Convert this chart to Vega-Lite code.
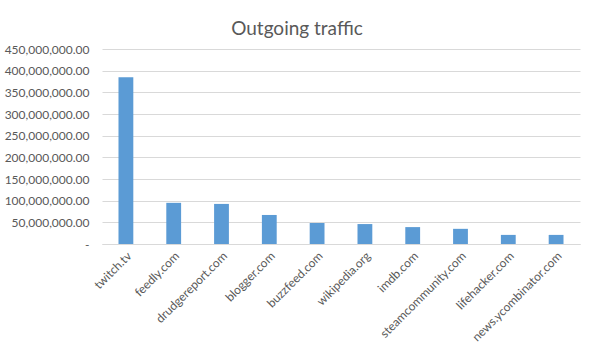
{
  "$schema": "https://vega.github.io/schema/vega-lite/v6.json",
  "autosize": {"type": "none"},
  "width": 478,
  "height": 195,
  "padding": {"left": 102, "top": 49, "right": 14, "bottom": 108},
  "background": "white",
  "title": {"text": "Outgoing traffic", "fontSize": 19, "font": "Lato", "fontWeight": "normal", "color": "#595959", "anchor": "middle", "dx": -44, "offset": 4},
  "data": {"values": [
    {"site": "twitch.tv", "traffic": 385000000},
    {"site": "feedly.com", "traffic": 95000000},
    {"site": "drudgereport.com", "traffic": 92500000},
    {"site": "blogger.com", "traffic": 67000000},
    {"site": "buzzfeed.com", "traffic": 48500000},
    {"site": "wikipedia.org", "traffic": 46000000},
    {"site": "imdb.com", "traffic": 39000000},
    {"site": "steamcommunity.com", "traffic": 35000000},
    {"site": "lifehacker.com", "traffic": 21000000},
    {"site": "news.ycombinator.com", "traffic": 21000000}
  ]},
  "mark": {"type": "bar", "color": "#5B9BD5"},
  "encoding": {
    "x": {"field": "site", "type": "nominal", "sort": null,
      "scale": {"paddingInner": 0.69, "paddingOuter": 0.345},
      "axis": {"title": null, "labelAngle": -45, "labelFont": "Lato", "labelFontSize": 12, "labelColor": "#595959", "ticks": false, "domainColor": "#D9D9D9", "labelPadding": 6}},
    "y": {"field": "traffic", "type": "quantitative",
      "scale": {"domain": [0, 450000000], "nice": false},
      "axis": {"title": null, "values": [0, 50000000, 100000000, 150000000, 200000000, 250000000, 300000000, 350000000, 400000000, 450000000],
        "labelExpr": "datum.value == 0 ? '-' : format(datum.value, ',.2f')",
        "labelFont": "Lato", "labelFontSize": 12, "labelColor": "#595959", "ticks": false, "domain": false,
        "gridColor": "#D9D9D9", "labelPadding": 13}}
  },
  "config": {"view": {"stroke": null}}
}
